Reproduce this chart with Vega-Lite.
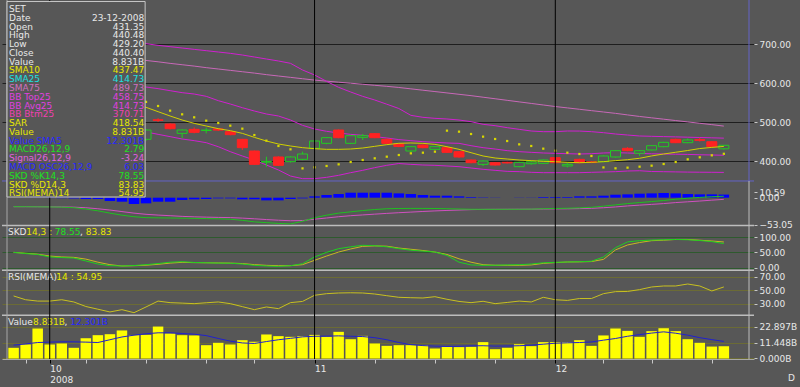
{
"$schema":"https://vega.github.io/schema/vega-lite/v6.json",
"width":752,"height":359,
"autosize":{"type":"none"},
"padding":{"left":2,"top":0,"right":46,"bottom":28},
"background":"#575757",
"config":{"view":{"stroke":null},"text":{"font":"DejaVu Sans"}},
"datasets":{
"legend":[
{"item":"set","label":"SET","val":""},
{"item":"date","label":"Date","val":"23-12-2008"},
{"item":"open","label":"Open","val":"431.35"},
{"item":"high","label":"High","val":"440.48"},
{"item":"low","label":"Low","val":"429.20"},
{"item":"close","label":"Close","val":"440.40"},
{"item":"value","label":"Value","val":"8.831B"},
{"item":"sma10","label":"SMA10","val":"437.47"},
{"item":"sma25","label":"SMA25","val":"414.73"},
{"item":"sma75","label":"SMA75","val":"489.73"},
{"item":"bbtop","label":"BB Top25","val":"458.75"},
{"item":"bbavg","label":"BB Avg25","val":"414.73"},
{"item":"bbbtm","label":"BB Btm25","val":"370.71"},
{"item":"sar","label":"SAR","val":"418.54"},
{"item":"value2","label":"Value","val":"8.831B"},
{"item":"vsma5","label":"Value SMA5","val":"12.301B"},
{"item":"macd","label":"MACD26,12,9","val":"2.79"},
{"item":"signal","label":"Signal26,12,9","val":"-3.24"},
{"item":"osc","label":"MACD OSC26,12,9","val":"6.03"},
{"item":"skdk","label":"SKD %K14,3","val":"78.55"},
{"item":"skdd","label":"SKD %D14,3","val":"83.83"},
{"item":"rsi","label":"RSI(MEMA)14","val":"54.95"}
]},
"data":{"values":[
{"i":1,"o":600,"h":605,"l":592,"c":597,"v":7.7,"vm":9.6,"s10":600,"s75":694,"bt":690,"ba":640,"bb":590,"sar":612,"m":-17.5,"sg":-17.5,"os":0,"k":50,"d":50,"r":41.6},
{"i":2,"o":592,"h":594,"l":575,"c":578,"v":10.1,"vm":10.5,"s10":603,"s75":690.8,"bt":692,"ba":636,"bb":580,"sar":611,"m":-17.6,"sg":-17.5,"os":-0.3,"k":46,"d":47,"r":36},
{"i":3,"o":580,"h":598,"l":578,"c":597,"v":21.6,"vm":11.5,"s10":605,"s75":687.6,"bt":694,"ba":632,"bb":570,"sar":610,"m":-17.8,"sg":-17.6,"os":-0.5,"k":43,"d":44,"r":34},
{"i":4,"o":598,"h":602,"l":586,"c":590,"v":10.1,"vm":11.8,"s10":604,"s75":684.4,"bt":696,"ba":628,"bb":560,"sar":608,"m":-18,"sg":-17.7,"os":-0.7,"k":35,"d":38,"r":34},
{"i":5,"o":590,"h":592,"l":576,"c":580,"v":10.8,"vm":12,"s10":600,"s75":681.2,"bt":698,"ba":624,"bb":550,"sar":606,"m":-18.3,"sg":-17.9,"os":-1,"k":33,"d":35,"r":36},
{"i":6,"o":578,"h":582,"l":560,"c":562,"v":7.7,"vm":12,"s10":595,"s75":678,"bt":700,"ba":619,"bb":538,"sar":603,"m":-19.5,"sg":-18.4,"os":-1.5,"k":31.5,"d":33.7,"r":32.7},
{"i":7,"o":555,"h":557,"l":530,"c":535,"v":14.6,"vm":11.8,"s10":588,"s75":674.8,"bt":702,"ba":614,"bb":526,"sar":598,"m":-22,"sg":-19.5,"os":-2.6,"k":22,"d":28,"r":26},
{"i":8,"o":535,"h":540,"l":522,"c":530,"v":16.8,"vm":11.5,"s10":578,"s75":671.6,"bt":703,"ba":608,"bb":513,"sar":590,"m":-25.5,"sg":-21.5,"os":-2.6,"k":12,"d":18,"r":22},
{"i":9,"o":520,"h":522,"l":495,"c":505,"v":17.5,"vm":13.5,"s10":567,"s75":668.4,"bt":703.5,"ba":603,"bb":502,"sar":580,"m":-30,"sg":-24,"os":-6.5,"k":6.6,"d":9.9,"r":17.9},
{"i":10,"o":508,"h":515,"l":500,"c":510,"v":20.2,"vm":15.5,"s10":557,"s75":665.2,"bt":703,"ba":598,"bb":493,"sar":570,"m":-34,"sg":-27,"os":-7.8,"k":5.5,"d":5.5,"r":21.3},
{"i":11,"o":495,"h":498,"l":455,"c":460,"v":16.8,"vm":16.8,"s10":546,"s75":662,"bt":702.5,"ba":594,"bb":485,"sar":562,"m":-37,"sg":-30,"os":-12.3,"k":7,"d":6.5,"r":16.8},
{"i":12,"o":455.7,"h":482,"l":452,"c":479.7,"v":17,"vm":17.8,"s10":538,"s75":658.5,"bt":701.6,"ba":590.2,"bb":474.6,"sar":552,"m":-38.8,"sg":-32.3,"os":-11,"k":9.9,"d":8,"r":25.3},
{"i":13,"o":506,"h":510,"l":500.5,"c":504.5,"v":23,"vm":18.5,"s10":526.8,"s75":655,"bt":697.3,"ba":586,"bb":468.6,"sar":541.4,"m":-39.2,"sg":-33.8,"os":-7.8,"k":13.5,"d":11,"r":34},
{"i":14,"o":495.1,"h":497,"l":481,"c":483.1,"v":18,"vm":18.5,"s10":515.7,"s75":651,"bt":693.9,"ba":580.8,"bb":462.6,"sar":529.4,"m":-39.5,"sg":-35,"os":-7.8,"k":18,"d":15,"r":31.7},
{"i":15,"o":471.1,"h":481,"l":458.3,"c":479.7,"v":16.8,"vm":18,"s10":505.4,"s75":647.5,"bt":690.5,"ba":575.7,"bb":456.6,"sar":520,"m":-39.8,"sg":-36.3,"os":-4.5,"k":19.6,"d":17.4,"r":31},
{"i":16,"o":481.4,"h":486.5,"l":471.1,"c":473.7,"v":16.6,"vm":17.5,"s10":496.8,"s75":644,"bt":687,"ba":572.2,"bb":452.3,"sar":512.3,"m":-40.2,"sg":-37.2,"os":-3.2,"k":17,"d":16.5,"r":30.2},
{"i":17,"o":478.5,"h":485.7,"l":471,"c":479.5,"v":9.6,"vm":16.5,"s10":490,"s75":640,"bt":683.6,"ba":566.3,"bb":447.1,"sar":503.7,"m":-40.6,"sg":-37.8,"os":-2.6,"k":16,"d":16,"r":31.5},
{"i":18,"o":482.5,"h":485,"l":477,"c":479.5,"v":11.3,"vm":14.4,"s10":483.1,"s75":636.5,"bt":680.2,"ba":555.1,"bb":436.8,"sar":497.7,"m":-41,"sg":-38.3,"os":-1.3,"k":15,"d":15.5,"r":32.7},
{"i":19,"o":475.4,"h":477,"l":466,"c":467.7,"v":10.1,"vm":12.5,"s10":478,"s75":633,"bt":676.8,"ba":546.5,"bb":424,"sar":490.8,"m":-41.8,"sg":-38.7,"os":-1.3,"k":14.5,"d":15,"r":30.2},
{"i":20,"o":455.7,"h":457,"l":428.3,"c":434.3,"v":13.2,"vm":11.2,"s10":471.1,"s75":629.5,"bt":672.5,"ba":537.1,"bb":412.9,"sar":483.1,"m":-44,"sg":-39.7,"os":-3.2,"k":12,"d":13.5,"r":25.8},
{"i":21,"o":425.7,"h":427,"l":390,"c":391.4,"v":12,"vm":10.8,"s10":460.8,"s75":626,"bt":667.4,"ba":528.5,"bb":402.6,"sar":466.8,"m":-47,"sg":-41,"os":-3.2,"k":7.7,"d":10,"r":21.3},
{"i":22,"o":397,"h":411,"l":385.4,"c":399,"v":17.3,"vm":12.2,"s10":451.4,"s75":622,"bt":662.2,"ba":520.8,"bb":389.7,"sar":452.3,"m":-48.5,"sg":-42.5,"os":-5.2,"k":5.5,"d":7.7,"r":25.3},
{"i":23,"o":410.3,"h":412,"l":387,"c":388.9,"v":16.1,"vm":13.5,"s10":443.7,"s75":618.5,"bt":657.1,"ba":515.7,"bb":376.9,"sar":438.6,"m":-50,"sg":-43.8,"os":-5.2,"k":4.4,"d":6.6,"r":22.8},
{"i":24,"o":398.3,"h":412,"l":396,"c":410.3,"v":15.6,"vm":14.5,"s10":438.6,"s75":615,"bt":651.1,"ba":505.4,"bb":361.4,"sar":430,"m":-51,"sg":-44.8,"os":-2.6,"k":6.5,"d":6.6,"r":31.7},
{"i":25,"o":404.3,"h":424,"l":402,"c":418,"v":16.1,"vm":15.6,"s10":434.3,"s75":611.5,"bt":634,"ba":491.7,"bb":354.6,"sar":381,"m":-46,"sg":-44.5,"os":-1.3,"k":13,"d":9.9,"r":33.5},
{"i":26,"o":432.6,"h":453,"l":431,"c":451.4,"v":17,"vm":16,"s10":431.7,"s75":608,"bt":621.1,"ba":482.3,"bb":354.6,"sar":383.7,"m":-39,"sg":-41.8,"os":2.6,"k":35,"d":24,"r":42.6},
{"i":27,"o":445.4,"h":461.5,"l":443,"c":460,"v":15.6,"vm":16.1,"s10":430,"s75":605.3,"bt":604.8,"ba":476.3,"bb":358,"sar":387.2,"m":-34,"sg":-39.5,"os":5.2,"k":50,"d":38,"r":45},
{"i":28,"o":479.7,"h":481,"l":458.5,"c":460,"v":19.2,"vm":16.3,"s10":430,"s75":602.6,"bt":589.4,"ba":472,"bb":363.2,"sar":391.4,"m":-30,"sg":-37,"os":7.1,"k":62,"d":51,"r":46},
{"i":29,"o":445.4,"h":466.5,"l":443.5,"c":465.1,"v":13.9,"vm":16,"s10":430.8,"s75":600,"bt":577.4,"ba":468.5,"bb":370,"sar":397.4,"m":-27.5,"sg":-35,"os":9.7,"k":68,"d":61,"r":46.3},
{"i":30,"o":460.8,"h":469.4,"l":454,"c":465.1,"v":16.3,"vm":15.8,"s10":433.4,"s75":597.3,"bt":566.2,"ba":466,"bb":376,"sar":402.6,"m":-25,"sg":-33.5,"os":9.7,"k":73,"d":69.6,"r":46},
{"i":31,"o":470.3,"h":472,"l":458.5,"c":460,"v":10.8,"vm":15,"s10":437.7,"s75":594.6,"bt":556.8,"ba":462.6,"bb":382.9,"sar":406.9,"m":-23,"sg":-32,"os":9.7,"k":71.7,"d":71,"r":44.5},
{"i":32,"o":455.7,"h":457.5,"l":443.5,"c":445.4,"v":9.1,"vm":13.5,"s10":442,"s75":592,"bt":546,"ba":459.1,"bb":388.9,"sar":411.1,"m":-21.5,"sg":-30.5,"os":9.7,"k":68,"d":70,"r":42},
{"i":33,"o":444,"h":446,"l":435.5,"c":437.5,"v":9.6,"vm":11.5,"s10":445.5,"s75":589,"bt":535,"ba":455,"bb":393.5,"sar":415.4,"m":-21,"sg":-29.2,"os":8.4,"k":62,"d":64,"r":39.6},
{"i":34,"o":425.7,"h":438.5,"l":423,"c":436.8,"v":9.6,"vm":10,"s10":446.3,"s75":585.5,"bt":517.4,"ba":452.3,"bb":391.4,"sar":419.7,"m":-20.8,"sg":-28,"os":7.1,"k":57,"d":60,"r":39},
{"i":35,"o":441.1,"h":443,"l":432.5,"c":434.3,"v":9.6,"vm":9.3,"s10":445.4,"s75":582,"bt":512.3,"ba":449.7,"bb":389.7,"sar":421.4,"m":-20.8,"sg":-26.8,"os":5.2,"k":54,"d":56,"r":38.6},
{"i":36,"o":430,"h":438.5,"l":428.5,"c":436.8,"v":7.2,"vm":8.9,"s10":442.8,"s75":578.5,"bt":509.7,"ba":448,"bb":388.9,"sar":424,"m":-21,"sg":-25.7,"os":3.9,"k":51,"d":51,"r":40.5},
{"i":37,"o":434.3,"h":436,"l":420.5,"c":422.3,"v":8.4,"vm":8.7,"s10":436.8,"s75":575,"bt":508,"ba":446.3,"bb":387.2,"sar":478,"m":-21.5,"sg":-24.8,"os":3.9,"k":40,"d":43,"r":36.7},
{"i":38,"o":424,"h":425.5,"l":408.5,"c":410.3,"v":8.2,"vm":8.8,"s10":430,"s75":571.5,"bt":505.4,"ba":445.4,"bb":385.4,"sar":475.4,"m":-22,"sg":-24,"os":2.6,"k":18,"d":29,"r":33.5},
{"i":39,"o":402.6,"h":404,"l":394,"c":395.7,"v":8.4,"vm":9.1,"s10":421.4,"s75":568,"bt":501.1,"ba":439.4,"bb":382,"sar":469.4,"m":-22.5,"sg":-23.2,"os":1.3,"k":9,"d":18,"r":31.7},
{"i":40,"o":391.4,"h":401.5,"l":387,"c":400,"v":11.8,"vm":9.2,"s10":412.9,"s75":564,"bt":494.3,"ba":434.3,"bb":378.6,"sar":462.6,"m":-22.6,"sg":-22.8,"os":0.6,"k":7.7,"d":9.8,"r":33.7},
{"i":41,"o":395.7,"h":397,"l":388,"c":389.7,"v":6.7,"vm":8.9,"s10":407.7,"s75":560,"bt":490.8,"ba":430.8,"bb":376,"sar":456.6,"m":-22.6,"sg":-22.6,"os":0.3,"k":8,"d":8,"r":30.2},
{"i":42,"o":396.6,"h":398,"l":393.5,"c":395,"v":7.7,"vm":9,"s10":405.1,"s75":556,"bt":485.7,"ba":426.6,"bb":373.4,"sar":451.4,"m":-22.5,"sg":-22.5,"os":0,"k":9,"d":7.7,"r":32},
{"i":43,"o":385.4,"h":398,"l":384,"c":396.6,"v":10.3,"vm":9.2,"s10":402.6,"s75":552,"bt":481.4,"ba":424,"bb":372.6,"sar":442.8,"m":-22.5,"sg":-22.4,"os":-0.3,"k":9.8,"d":7.7,"r":34},
{"i":44,"o":393,"h":400.5,"l":390.5,"c":398,"v":8.9,"vm":9.6,"s10":400.9,"s75":548,"bt":477.1,"ba":422.3,"bb":370.9,"sar":438.6,"m":-22.2,"sg":-22.3,"os":0.3,"k":12,"d":9,"r":32.7},
{"i":45,"o":394,"h":404,"l":392.5,"c":402.6,"v":11.8,"vm":10.3,"s10":399.1,"s75":544,"bt":475.4,"ba":420.6,"bb":370,"sar":431.7,"m":-21.5,"sg":-22.1,"os":1.3,"k":16,"d":14,"r":39.6},
{"i":46,"o":408.6,"h":410,"l":394,"c":395.7,"v":11.8,"vm":11,"s10":398.3,"s75":540,"bt":475.4,"ba":419.7,"bb":370,"sar":426.6,"m":-21,"sg":-21.8,"os":1.3,"k":17.5,"d":16.5,"r":36},
{"i":47,"o":387.2,"h":395.7,"l":383.5,"c":391.4,"v":11.8,"vm":11.3,"s10":396.6,"s75":536.5,"bt":477.1,"ba":418.8,"bb":370,"sar":421.4,"m":-20.5,"sg":-21.6,"os":1.3,"k":18.6,"d":18.6,"r":35},
{"i":48,"o":404.3,"h":406,"l":394,"c":395.7,"v":13.2,"vm":11.5,"s10":395.7,"s75":533,"bt":477,"ba":418,"bb":370,"sar":418,"m":-19.8,"sg":-21.2,"os":2.6,"k":19.5,"d":19,"r":37.8},
{"i":49,"o":398,"h":399.5,"l":394.5,"c":396,"v":9.1,"vm":11.9,"s10":396.6,"s75":529.5,"bt":475.4,"ba":418.8,"bb":370.9,"sar":412.9,"m":-18.7,"sg":-20.7,"os":2.6,"k":21,"d":20,"r":37.8},
{"i":50,"o":398.3,"h":414.5,"l":397,"c":412.9,"v":16.6,"vm":13.2,"s10":398.3,"s75":526,"bt":472.8,"ba":420.6,"bb":371.7,"sar":383.5,"m":-16.5,"sg":-19.5,"os":3.9,"k":34.7,"d":27,"r":45},
{"i":51,"o":410.3,"h":428,"l":409,"c":426.6,"v":21.6,"vm":14.4,"s10":400.9,"s75":522.5,"bt":469.4,"ba":421.4,"bb":372.6,"sar":381.2,"m":-14,"sg":-18,"os":5.8,"k":65,"d":58,"r":48},
{"i":52,"o":432.6,"h":435.5,"l":425,"c":426.6,"v":19.9,"vm":16,"s10":403.4,"s75":518.5,"bt":466.8,"ba":420.6,"bb":374.3,"sar":382.9,"m":-11.5,"sg":-16,"os":6.5,"k":84,"d":74,"r":48.3},
{"i":53,"o":419.8,"h":428,"l":413,"c":426.5,"v":15.6,"vm":17.2,"s10":407,"s75":514.5,"bt":464.3,"ba":419.5,"bb":375,"sar":385.4,"m":-9.5,"sg":-14.5,"os":7.8,"k":88,"d":82,"r":51},
{"i":54,"o":428.3,"h":441,"l":427,"c":439.4,"v":19.7,"vm":18.3,"s10":413,"s75":511,"bt":463.5,"ba":418.5,"bb":373,"sar":388,"m":-7.5,"sg":-13,"os":8.4,"k":90,"d":88,"r":54.9},
{"i":55,"o":436.8,"h":449.5,"l":435.5,"c":448,"v":21.8,"vm":19.2,"s10":418,"s75":507.5,"bt":462.7,"ba":418,"bb":372.5,"sar":392.3,"m":-5.5,"sg":-11.5,"os":9.1,"k":91,"d":89.5,"r":56.4},
{"i":56,"o":455.8,"h":457.5,"l":446,"c":447.1,"v":19.7,"vm":18.2,"s10":422.5,"s75":504,"bt":462,"ba":417.5,"bb":372,"sar":397.4,"m":-3,"sg":-9.5,"os":8.4,"k":92,"d":92,"r":56.4},
{"i":57,"o":447.1,"h":458,"l":445.5,"c":454,"v":13.9,"vm":16.8,"s10":427,"s75":500.5,"bt":461.2,"ba":417,"bb":371.5,"sar":404.3,"m":-1,"sg":-8,"os":7.1,"k":91,"d":92,"r":59.3},
{"i":58,"o":455,"h":459,"l":450,"c":453,"v":11.3,"vm":15,"s10":432,"s75":497,"bt":460.4,"ba":416,"bb":371.2,"sar":409.5,"m":0.5,"sg":-6.5,"os":6.5,"k":88.5,"d":89.5,"r":56.4},
{"i":59,"o":449.6,"h":451,"l":435.5,"c":436.8,"v":8.6,"vm":13.6,"s10":435,"s75":493.5,"bt":459.6,"ba":415.5,"bb":371,"sar":414.6,"m":1.8,"sg":-4.8,"os":6.5,"k":85,"d":87,"r":49},
{"i":60,"o":431.35,"h":440.48,"l":429.2,"c":440.4,"v":8.831,"vm":12.301,"s10":437.47,"s75":489.73,"bt":458.75,"ba":414.73,"bb":370.71,"sar":418.54,"m":2.79,"sg":-3.24,"os":6.03,"k":78.55,"d":83.83,"r":54.95}
]},
"resolve":{"scale":{"y":"independent"},"axis":{"x":"independent","y":"independent"}},
"layer":[
{"resolve":{"axis":{"x":"independent","y":"independent"}},"layer":[
 {"data":{"values":[{}]},"mark":{"type":"rule","color":"#6464c8","strokeWidth":1},"encoding":{"y":{"datum":348.6,"type":"quantitative","scale":{"domain":[-109,813.9],"nice":false,"zero":false},"axis":{"orient":"right","domain":false,"tickSize":3,"tickColor":"#c8c8c8","labelColor":"#e8e8e8","labelFont":"DejaVu Sans","labelFontSize":9,"labelPadding":2,"labelOverlap":false,"labelBound":false,"labelFlush":false,"title":null,"labelBaseline":"middle","labelAlign":"left","values":[400,500,600,700],"format":".2f","grid":true,"gridColor":"#1e1e1e","gridWidth":1}}}},
 {"data":{"values":[{}]},"mark":{"type":"rule","color":"#6464c8","strokeWidth":1},"encoding":{"x":{"datum":62.09,"type":"quantitative","scale":{"domain":[0.451,62.09],"nice":false,"zero":false},"axis":null},"y":{"datum":813.9,"type":"quantitative","scale":{"domain":[-109,813.9],"nice":false,"zero":false},"axis":null},"y2":{"datum":348.6}}},
 {"mark":{"type":"line","color":"#c868b8","strokeWidth":1},"encoding":{"x":{"field":"i","type":"quantitative","scale":{"domain":[0.451,62.09],"nice":false,"zero":false},"axis":null},"y":{"field":"s75","type":"quantitative","scale":{"domain":[-109,813.9],"nice":false,"zero":false},"axis":null}}},
 {"mark":{"type":"line","color":"#d020d0","strokeWidth":1},"encoding":{"x":{"field":"i","type":"quantitative","scale":{"domain":[0.451,62.09],"nice":false,"zero":false},"axis":null},"y":{"field":"bt","type":"quantitative","scale":{"domain":[-109,813.9],"nice":false,"zero":false},"axis":null}}},
 {"mark":{"type":"line","color":"#d020d0","strokeWidth":1},"encoding":{"x":{"field":"i","type":"quantitative","scale":{"domain":[0.451,62.09],"nice":false,"zero":false},"axis":null},"y":{"field":"ba","type":"quantitative","scale":{"domain":[-109,813.9],"nice":false,"zero":false},"axis":null}}},
 {"mark":{"type":"line","color":"#d020d0","strokeWidth":1},"encoding":{"x":{"field":"i","type":"quantitative","scale":{"domain":[0.451,62.09],"nice":false,"zero":false},"axis":null},"y":{"field":"bb","type":"quantitative","scale":{"domain":[-109,813.9],"nice":false,"zero":false},"axis":null}}},
 {"mark":{"type":"rule","strokeWidth":1},"encoding":{"x":{"field":"i","type":"quantitative","scale":{"domain":[0.451,62.09],"nice":false,"zero":false},"axis":null},"y":{"field":"l","type":"quantitative","scale":{"domain":[-109,813.9],"nice":false,"zero":false},"axis":null},"y2":{"field":"h"},"color":{"condition":{"test":"datum.c>=datum.o","value":"#22cc22"},"value":"#ff2222"}}},
 {"mark":{"type":"bar","size":10,"orient":"vertical","strokeWidth":1},"encoding":{"x":{"field":"i","type":"quantitative","scale":{"domain":[0.451,62.09],"nice":false,"zero":false},"axis":null},"y":{"field":"o","type":"quantitative","scale":{"domain":[-109,813.9],"nice":false,"zero":false},"axis":null},"y2":{"field":"c"},"fill":{"condition":{"test":"datum.c>=datum.o","value":"#575757"},"value":"#ff2222"},"stroke":{"condition":{"test":"datum.c>=datum.o","value":"#22cc22"},"value":"#ff2222"}}},
 {"mark":{"type":"line","color":"#d0d000","strokeWidth":1},"encoding":{"x":{"field":"i","type":"quantitative","scale":{"domain":[0.451,62.09],"nice":false,"zero":false},"axis":null},"y":{"field":"s10","type":"quantitative","scale":{"domain":[-109,813.9],"nice":false,"zero":false},"axis":null}}},
 {"mark":{"type":"square","size":5,"filled":true,"color":"#d8d800","opacity":1},"encoding":{"x":{"field":"i","type":"quantitative","scale":{"domain":[0.451,62.09],"nice":false,"zero":false},"axis":null},"y":{"field":"sar","type":"quantitative","scale":{"domain":[-109,813.9],"nice":false,"zero":false},"axis":null}}}
]},
{"resolve":{"axis":{"x":"independent","y":"independent"}},"layer":[
 {"data":{"values":[{}]},"mark":{"type":"rule","color":"#bdbdbd","strokeWidth":1.5},"encoding":{"y":{"datum":-54,"type":"quantitative","scale":{"domain":[-313.5,384.2],"nice":false,"zero":false},"axis":{"orient":"right","domain":false,"tickSize":3,"tickColor":"#c8c8c8","labelColor":"#e8e8e8","labelFont":"DejaVu Sans","labelFontSize":9,"labelPadding":2,"labelOverlap":false,"labelBound":false,"labelFlush":false,"title":null,"labelBaseline":"middle","labelAlign":"left","values":[-53.05,0,10.59],"format":".2f","grid":false}}}},
 {"mark":{"type":"bar","size":10.5,"orient":"vertical","color":"#0000ff"},"encoding":{"x":{"field":"i","type":"quantitative","scale":{"domain":[0.451,62.09],"nice":false,"zero":false},"axis":null},"y":{"field":"os","type":"quantitative","scale":{"domain":[-313.5,384.2],"nice":false,"zero":false},"axis":null},"y2":{"datum":0}}},
 {"mark":{"type":"line","color":"#d050c0","strokeWidth":1},"encoding":{"x":{"field":"i","type":"quantitative","scale":{"domain":[0.451,62.09],"nice":false,"zero":false},"axis":null},"y":{"field":"sg","type":"quantitative","scale":{"domain":[-313.5,384.2],"nice":false,"zero":false},"axis":null}}},
 {"mark":{"type":"line","color":"#20c020","strokeWidth":1},"encoding":{"x":{"field":"i","type":"quantitative","scale":{"domain":[0.451,62.09],"nice":false,"zero":false},"axis":null},"y":{"field":"m","type":"quantitative","scale":{"domain":[-313.5,384.2],"nice":false,"zero":false},"axis":null}}}
]},
{"resolve":{"axis":{"x":"independent","y":"independent"}},"layer":[
 {"data":{"values":[{}]},"mark":{"type":"rule","color":"#bdbdbd","strokeWidth":1.5},"encoding":{"y":{"datum":-8.47,"type":"quantitative","scale":{"domain":[-297.4,872],"nice":false,"zero":false},"axis":{"orient":"right","domain":false,"tickSize":3,"tickColor":"#c8c8c8","labelColor":"#e8e8e8","labelFont":"DejaVu Sans","labelFontSize":9,"labelPadding":2,"labelOverlap":false,"labelBound":false,"labelFlush":false,"title":null,"labelBaseline":"middle","labelAlign":"left","values":[0,50,100],"format":".2f","grid":true,"gridColor":"#2e5a2e","gridWidth":1}}}},
 {"mark":{"type":"line","color":"#c8b820","strokeWidth":1},"encoding":{"x":{"field":"i","type":"quantitative","scale":{"domain":[0.451,62.09],"nice":false,"zero":false},"axis":null},"y":{"field":"d","type":"quantitative","scale":{"domain":[-297.4,872],"nice":false,"zero":false},"axis":null}}},
 {"mark":{"type":"line","color":"#20d020","strokeWidth":1},"encoding":{"x":{"field":"i","type":"quantitative","scale":{"domain":[0.451,62.09],"nice":false,"zero":false},"axis":null},"y":{"field":"k","type":"quantitative","scale":{"domain":[-297.4,872],"nice":false,"zero":false},"axis":null}}},
 {"data":{"values":[{}]},"mark":{"type":"text","align":"left","baseline":"middle","font":"DejaVu Sans","fontSize":9,"color":"#e8e8e8","text":"SKD"},"encoding":{"x":{"datum":0.533,"type":"quantitative","scale":{"domain":[0.451,62.09],"nice":false,"zero":false},"axis":null},"y":{"datum":115.3,"type":"quantitative","scale":{"domain":[-297.4,872],"nice":false,"zero":false},"axis":null}}},
 {"data":{"values":[{}]},"mark":{"type":"text","align":"left","baseline":"middle","font":"DejaVu Sans","fontSize":9,"color":"#e8e800","text":"14,3 :"},"encoding":{"x":{"datum":2.053,"type":"quantitative","scale":{"domain":[0.451,62.09],"nice":false,"zero":false},"axis":null},"y":{"datum":115.3,"type":"quantitative","scale":{"domain":[-297.4,872],"nice":false,"zero":false},"axis":null}}},
 {"data":{"values":[{}]},"mark":{"type":"text","align":"left","baseline":"middle","font":"DejaVu Sans","fontSize":9,"color":"#20e020","text":"78.55"},"encoding":{"x":{"datum":4.418,"type":"quantitative","scale":{"domain":[0.451,62.09],"nice":false,"zero":false},"axis":null},"y":{"datum":115.3,"type":"quantitative","scale":{"domain":[-297.4,872],"nice":false,"zero":false},"axis":null}}},
 {"data":{"values":[{}]},"mark":{"type":"text","align":"left","baseline":"middle","font":"DejaVu Sans","fontSize":9,"color":"#e8e8e8","text":","},"encoding":{"x":{"datum":6.525,"type":"quantitative","scale":{"domain":[0.451,62.09],"nice":false,"zero":false},"axis":null},"y":{"datum":115.3,"type":"quantitative","scale":{"domain":[-297.4,872],"nice":false,"zero":false},"axis":null}}},
 {"data":{"values":[{}]},"mark":{"type":"text","align":"left","baseline":"middle","font":"DejaVu Sans","fontSize":9,"color":"#e8e800","text":"83.83"},"encoding":{"x":{"datum":7.0,"type":"quantitative","scale":{"domain":[0.451,62.09],"nice":false,"zero":false},"axis":null},"y":{"datum":115.3,"type":"quantitative","scale":{"domain":[-297.4,872],"nice":false,"zero":false},"axis":null}}}
]},
{"resolve":{"axis":{"x":"independent","y":"independent"}},"layer":[
 {"data":{"values":[{}]},"mark":{"type":"rule","color":"#bdbdbd","strokeWidth":1.5},"encoding":{"y":{"datum":12.96,"type":"quantitative","scale":{"domain":[-51.8,480.1],"nice":false,"zero":false},"axis":{"orient":"right","domain":false,"tickSize":3,"tickColor":"#c8c8c8","labelColor":"#e8e8e8","labelFont":"DejaVu Sans","labelFontSize":9,"labelPadding":2,"labelOverlap":false,"labelBound":false,"labelFlush":false,"title":null,"labelBaseline":"middle","labelAlign":"left","values":[30,50,70],"format":".2f","grid":true,"gridColor":"#6b6b35","gridWidth":1}}}},
 {"mark":{"type":"line","color":"#c8c020","strokeWidth":1},"encoding":{"x":{"field":"i","type":"quantitative","scale":{"domain":[0.451,62.09],"nice":false,"zero":false},"axis":null},"y":{"field":"r","type":"quantitative","scale":{"domain":[-51.8,480.1],"nice":false,"zero":false},"axis":null}}},
 {"data":{"values":[{}]},"mark":{"type":"text","align":"left","baseline":"middle","font":"DejaVu Sans","fontSize":9,"color":"#e8e8e8","text":"RSI(MEMA)"},"encoding":{"x":{"datum":0.533,"type":"quantitative","scale":{"domain":[0.451,62.09],"nice":false,"zero":false},"axis":null},"y":{"datum":70,"type":"quantitative","scale":{"domain":[-51.8,480.1],"nice":false,"zero":false},"axis":null}}},
 {"data":{"values":[{}]},"mark":{"type":"text","align":"left","baseline":"middle","font":"DejaVu Sans","fontSize":9,"color":"#e8e800","text":"14 : 54.95"},"encoding":{"x":{"datum":4.55,"type":"quantitative","scale":{"domain":[0.451,62.09],"nice":false,"zero":false},"axis":null},"y":{"datum":70,"type":"quantitative","scale":{"domain":[-51.8,480.1],"nice":false,"zero":false},"axis":null}}}
]},
{"resolve":{"axis":{"x":"independent","y":"independent"}},"layer":[
 {"mark":{"type":"bar","size":10.5,"orient":"vertical","color":"#ffff00"},"encoding":{"x":{"field":"i","type":"quantitative","scale":{"domain":[0.451,62.09],"nice":false,"zero":false},"axis":{"orient":"bottom","values":[2,4,7,12,17,21,26,31,36,41,46,50,54,59],"labelExpr":"datum.value==4?['10','2008']:datum.value==26?'11':datum.value==46?'12':''","labelAlign":"left","labelBaseline":"top","labelPadding":1,"labelLineHeight":11,"labelColor":"#e8e8e8","labelFont":"DejaVu Sans","labelFontSize":9,"tickSize":4,"tickColor":{"condition":{"test":"datum.value==4||datum.value==26||datum.value==46","value":"#000000"},"value":"#c8c8c8"},"domainColor":"#a8a8a8","domainWidth":1,"grid":false,"labelOverlap":false,"labelBound":false,"labelFlush":false,"title":"D","titleX":789,"titleY":18,"titleAlign":"center","titleBaseline":"middle","titleAngle":0,"titleColor":"#e8e8e8","titleFont":"DejaVu Sans","titleFontSize":9,"titleFontWeight":"normal"}},"y":{"field":"v","type":"quantitative","scale":{"domain":[-0.36,258.1],"nice":false,"zero":false},"axis":{"orient":"right","domain":false,"tickSize":3,"tickColor":"#c8c8c8","labelColor":"#e8e8e8","labelFont":"DejaVu Sans","labelFontSize":9,"labelPadding":2,"labelOverlap":false,"labelBound":false,"labelFlush":false,"title":null,"labelBaseline":"middle","labelAlign":"left","values":[0,11.448,22.897],"labelExpr":"format(datum.value,'.3f')+'B'","grid":true,"gridColor":"#6b6b35","gridWidth":1}},"y2":{"datum":0}}},
 {"mark":{"type":"line","color":"#2020d0","strokeWidth":1},"encoding":{"x":{"field":"i","type":"quantitative","scale":{"domain":[0.451,62.09],"nice":false,"zero":false},"axis":null},"y":{"field":"vm","type":"quantitative","scale":{"domain":[-0.36,258.1],"nice":false,"zero":false},"axis":null}}},
 {"data":{"values":[{}]},"mark":{"type":"rule","color":"#bdbdbd","strokeWidth":1},"encoding":{"x":{"datum":62.09,"type":"quantitative","scale":{"domain":[0.451,62.09],"nice":false,"zero":false},"axis":null},"y":{"datum":127.8,"type":"quantitative","scale":{"domain":[-0.36,258.1],"nice":false,"zero":false},"axis":null},"y2":{"datum":-0.36}}},
 {"data":{"values":[{}]},"mark":{"type":"text","align":"left","baseline":"middle","font":"DejaVu Sans","fontSize":9,"color":"#e8e8e8","text":"Value"},"encoding":{"x":{"datum":0.533,"type":"quantitative","scale":{"domain":[0.451,62.09],"nice":false,"zero":false},"axis":null},"y":{"datum":26.06,"type":"quantitative","scale":{"domain":[-0.36,258.1],"nice":false,"zero":false},"axis":null}}},
 {"data":{"values":[{}]},"mark":{"type":"text","align":"left","baseline":"middle","font":"DejaVu Sans","fontSize":9,"color":"#e8e800","text":"8.831B"},"encoding":{"x":{"datum":2.615,"type":"quantitative","scale":{"domain":[0.451,62.09],"nice":false,"zero":false},"axis":null},"y":{"datum":26.06,"type":"quantitative","scale":{"domain":[-0.36,258.1],"nice":false,"zero":false},"axis":null}}},
 {"data":{"values":[{}]},"mark":{"type":"text","align":"left","baseline":"middle","font":"DejaVu Sans","fontSize":9,"color":"#e8e8e8","text":","},"encoding":{"x":{"datum":5.23,"type":"quantitative","scale":{"domain":[0.451,62.09],"nice":false,"zero":false},"axis":null},"y":{"datum":26.06,"type":"quantitative","scale":{"domain":[-0.36,258.1],"nice":false,"zero":false},"axis":null}}},
 {"data":{"values":[{}]},"mark":{"type":"text","align":"left","baseline":"middle","font":"DejaVu Sans","fontSize":9,"color":"#2828ff","text":"12.301B"},"encoding":{"x":{"datum":5.697,"type":"quantitative","scale":{"domain":[0.451,62.09],"nice":false,"zero":false},"axis":null},"y":{"datum":26.06,"type":"quantitative","scale":{"domain":[-0.36,258.1],"nice":false,"zero":false},"axis":null}}}
]},
{"data":{"values":[{"i":4,"month":"2008-10"},{"i":26,"month":"2008-11"},{"i":46,"month":"2008-12"}]},"mark":{"type":"rule","color":"#000000","strokeWidth":1},"encoding":{"x":{"field":"i","type":"quantitative","scale":{"domain":[0.451,62.09],"nice":false,"zero":false},"axis":null}}},
{"data":{"values":[{}]},"mark":{"type":"rule","color":"#a8a8a8","strokeWidth":1},"encoding":{"x":{"datum":0.451,"type":"quantitative","scale":{"domain":[0.451,62.09],"nice":false,"zero":false},"axis":null}}},
{"data":{"values":[{}]},"mark":{"type":"rect","fill":"#575757","stroke":"#c8c8c8","strokeWidth":1},"encoding":{"x":{"datum":0.451,"type":"quantitative","scale":{"domain":[0.451,62.09],"nice":false,"zero":false},"axis":null},"x2":{"datum":11.926},"y":{"datum":810,"type":"quantitative","scale":{"domain":[-109,813.9],"nice":false,"zero":false},"axis":null},"y2":{"datum":307.4}}},
{"data":{"name":"legend"},"mark":{"type":"text","align":"left","baseline":"middle","font":"DejaVu Sans","fontSize":9},"encoding":{"x":{"datum":0.615,"type":"quantitative","scale":{"domain":[0.451,62.09],"nice":false,"zero":false},"axis":null},"y":{"field":"item","type":"nominal","sort":null,"scale":{"type":"point","range":[9,193.3],"padding":0},"axis":null},"text":{"field":"label"},"color":{"field":"item","type":"nominal","sort":null,"scale":{"domain":["set","date","open","high","low","close","value","sma10","sma25","sma75","bbtop","bbavg","bbbtm","sar","value2","vsma5","macd","signal","osc","skdk","skdd","rsi"],"range":["#e8e8e8","#e8e8e8","#e8e8e8","#e8e8e8","#e8e8e8","#e8e8e8","#e8e8e8","#e8e800","#20e0e0","#d070c0","#e040e0","#e040e0","#f040b0","#e8e800","#e8e800","#2828ff","#20e020","#e060e0","#2828ff","#20e020","#e8e800","#e8e800"]},"legend":null}}},
{"data":{"name":"legend"},"mark":{"type":"text","align":"right","baseline":"middle","font":"DejaVu Sans","fontSize":9},"encoding":{"x":{"datum":11.85,"type":"quantitative","scale":{"domain":[0.451,62.09],"nice":false,"zero":false},"axis":null},"y":{"field":"item","type":"nominal","sort":null,"scale":{"type":"point","range":[9,193.3],"padding":0},"axis":null},"text":{"field":"val"},"color":{"field":"item","type":"nominal","sort":null,"scale":{"domain":["set","date","open","high","low","close","value","sma10","sma25","sma75","bbtop","bbavg","bbbtm","sar","value2","vsma5","macd","signal","osc","skdk","skdd","rsi"],"range":["#e8e8e8","#e8e8e8","#e8e8e8","#e8e8e8","#e8e8e8","#e8e8e8","#e8e8e8","#e8e800","#20e0e0","#d070c0","#e040e0","#e040e0","#f040b0","#e8e800","#e8e800","#2828ff","#20e020","#e060e0","#2828ff","#20e020","#e8e800","#e8e800"]},"legend":null}}}
]
}
